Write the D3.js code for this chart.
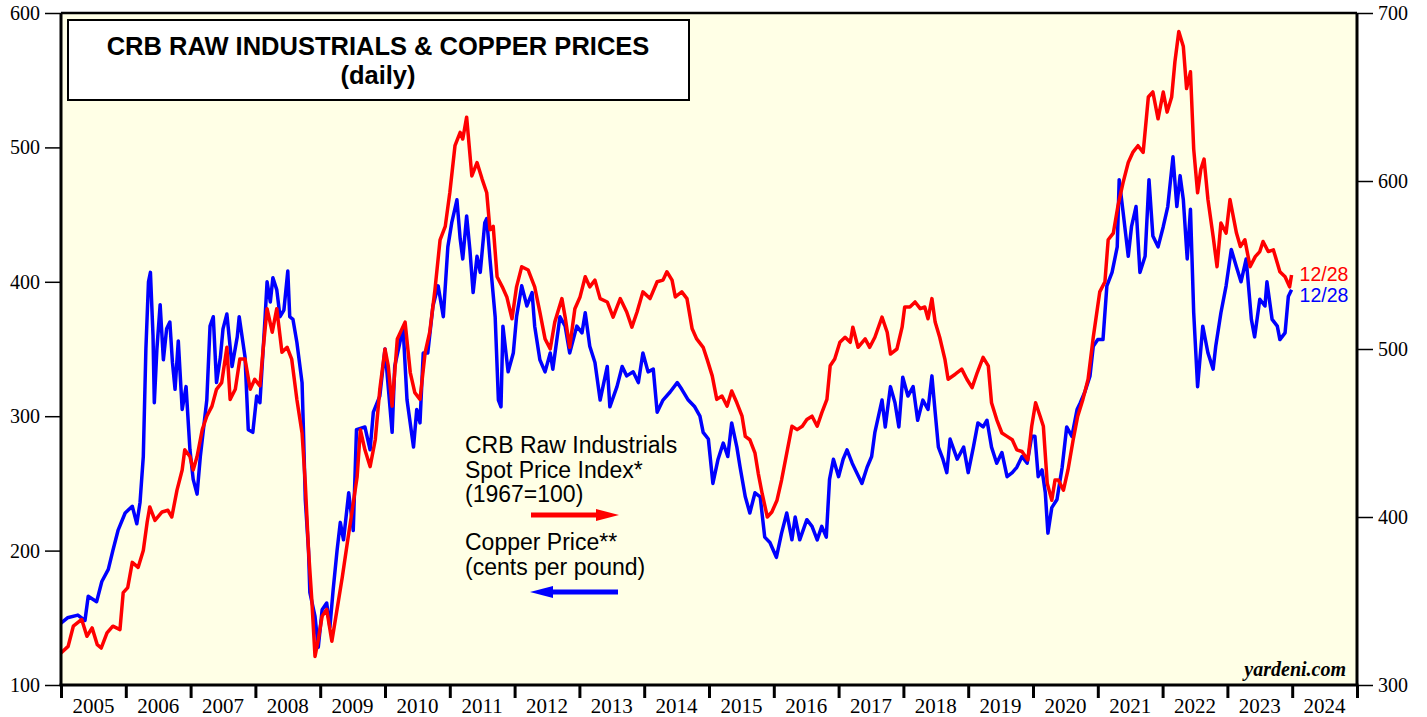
<!DOCTYPE html>
<html>
<head>
  <meta charset="UTF-8">
  <title>CRB Raw Industrials & Copper Prices</title>
  <style>
    body { margin: 0; background: #fff; }
    .tick-label { font-family: "Liberation Serif", "Times New Roman", serif; font-size: 20px; fill: #000; }
    .year-label { font-family: "Liberation Serif", "Times New Roman", serif; font-size: 21px; fill: #000; }
    .legend { font-family: "Liberation Sans", Arial, sans-serif; font-size: 23px; fill: #000; }
  </style>
</head>
<body>
<svg id="chart"></svg>
<script src="https://d3js.org/d3.v7.min.js"></script>
<script>

// copper price, cents per pound (left axis) : [decimal year, value]
var copper = [
  [2005.00,146],[2005.10,150],[2005.26,152],[2005.37,148],[2005.42,166],[2005.55,162],[2005.63,177],[2005.73,186],
  [2005.80,200],[2005.88,215],[2005.99,228],[2006.10,233],[2006.17,220],[2006.22,236],[2006.27,270],[2006.31,350],
  [2006.35,400],[2006.38,407],[2006.42,360],[2006.44,310],[2006.48,350],[2006.53,383],[2006.58,342],[2006.63,365],
  [2006.68,370],[2006.72,340],[2006.76,320],[2006.81,356],[2006.87,305],[2006.93,322],[2006.99,275],[2007.04,253],
  [2007.10,242],[2007.15,270],[2007.25,312],[2007.30,367],[2007.35,374],[2007.40,325],[2007.46,344],[2007.50,365],
  [2007.56,376],[2007.64,337],[2007.72,359],[2007.75,374],[2007.84,344],[2007.89,290],[2007.96,288],[2008.02,315],
  [2008.07,310],[2008.15,374],[2008.18,400],[2008.23,385],[2008.27,403],[2008.33,394],[2008.38,374],[2008.44,379],
  [2008.50,408],[2008.53,374],[2008.58,372],[2008.64,355],[2008.72,325],[2008.74,292],[2008.77,238],[2008.82,200],
  [2008.84,169],[2008.92,151],[2008.97,128],[2009.03,156],[2009.10,161],[2009.15,143],[2009.20,171],[2009.26,200],
  [2009.31,221],[2009.36,208],[2009.44,243],[2009.51,215],[2009.56,290],[2009.69,292],[2009.77,275],[2009.82,303],
  [2009.92,315],[2010.00,350],[2010.11,288],[2010.15,337],[2010.23,355],[2010.28,365],[2010.34,312],[2010.44,277],
  [2010.49,305],[2010.54,295],[2010.59,347],[2010.66,347],[2010.74,382],[2010.82,397],[2010.90,374],[2010.97,426],
  [2011.03,444],[2011.11,461],[2011.16,432],[2011.20,417],[2011.26,449],[2011.31,424],[2011.36,392],[2011.42,419],
  [2011.47,407],[2011.54,444],[2011.57,447],[2011.62,417],[2011.70,374],[2011.75,312],[2011.79,307],[2011.82,367],
  [2011.90,333],[2011.98,347],[2012.03,374],[2012.11,397],[2012.19,382],[2012.27,392],[2012.31,367],[2012.39,342],
  [2012.47,333],[2012.55,347],[2012.59,335],[2012.70,374],[2012.78,367],[2012.85,347],[2012.96,367],[2013.04,362],
  [2013.09,377],[2013.16,352],[2013.24,340],[2013.32,312],[2013.43,337],[2013.47,307],[2013.58,322],[2013.66,337],
  [2013.73,330],[2013.83,333],[2013.91,325],[2013.98,347],[2014.06,333],[2014.14,335],[2014.20,303],[2014.29,312],
  [2014.40,318],[2014.51,325],[2014.58,320],[2014.68,312],[2014.78,307],[2014.86,300],[2014.91,288],[2014.99,283],
  [2015.06,250],[2015.14,268],[2015.22,280],[2015.29,270],[2015.35,295],[2015.43,277],[2015.48,262],[2015.56,240],
  [2015.63,228],[2015.71,243],[2015.79,240],[2015.86,210],[2015.94,206],[2016.04,195],[2016.12,213],[2016.20,228],
  [2016.28,208],[2016.33,225],[2016.40,208],[2016.51,223],[2016.59,218],[2016.67,208],[2016.74,218],[2016.81,210],
  [2016.86,253],[2016.92,268],[2017.00,255],[2017.07,268],[2017.13,275],[2017.21,265],[2017.28,258],[2017.36,250],
  [2017.44,262],[2017.51,270],[2017.56,288],[2017.67,312],[2017.72,292],[2017.80,322],[2017.87,310],[2017.93,292],
  [2017.99,329],[2018.07,315],[2018.15,322],[2018.22,297],[2018.30,312],[2018.38,305],[2018.44,330],[2018.49,303],
  [2018.54,277],[2018.61,268],[2018.67,258],[2018.72,283],[2018.83,268],[2018.93,277],[2019.00,258],[2019.08,277],
  [2019.15,295],[2019.23,292],[2019.29,297],[2019.36,277],[2019.44,265],[2019.52,273],[2019.60,255],[2019.68,258],
  [2019.75,262],[2019.83,270],[2019.91,265],[2019.98,285],[2020.03,285],[2020.08,255],[2020.14,260],[2020.19,243],
  [2020.23,213],[2020.29,232],[2020.37,238],[2020.45,262],[2020.52,292],[2020.60,285],[2020.68,305],[2020.73,310],
  [2020.80,318],[2020.88,330],[2020.93,352],[2021.00,357],[2021.08,357],[2021.14,397],[2021.22,407],[2021.30,426],
  [2021.33,476],[2021.39,452],[2021.47,419],[2021.52,441],[2021.59,456],[2021.65,407],[2021.73,419],[2021.79,476],
  [2021.85,434],[2021.93,426],[2022.01,441],[2022.08,456],[2022.16,493],[2022.22,456],[2022.27,479],[2022.32,461],
  [2022.38,417],[2022.43,454],[2022.48,377],[2022.54,322],[2022.62,367],[2022.70,347],[2022.78,335],[2022.82,352],
  [2022.90,377],[2022.98,397],[2023.06,424],[2023.14,411],[2023.21,400],[2023.29,417],[2023.37,372],[2023.42,359],
  [2023.50,387],[2023.58,382],[2023.61,400],[2023.69,372],[2023.77,367],[2023.81,357],[2023.89,362],[2023.94,389],
  [2023.99,394]
];

// CRB raw industrials spot index, 1967=100 (right axis)
var crb = [
  [2005.00,319],[2005.11,323],[2005.19,335],[2005.32,339],[2005.40,329],[2005.48,334],[2005.56,324],[2005.62,322],
  [2005.71,331],[2005.80,335],[2005.91,333],[2005.96,355],[2006.03,358],[2006.10,373],[2006.19,370],[2006.27,380],
  [2006.33,397],[2006.37,406],[2006.45,398],[2006.56,403],[2006.65,404],[2006.71,400],[2006.79,416],[2006.87,428],
  [2006.91,440],[2006.99,436],[2007.04,428],[2007.10,436],[2007.18,452],[2007.25,460],[2007.33,466],[2007.40,476],
  [2007.48,480],[2007.56,501],[2007.61,470],[2007.69,476],[2007.76,494],[2007.84,494],[2007.92,476],[2007.99,482],
  [2008.07,478],[2008.12,500],[2008.18,524],[2008.26,510],[2008.33,524],[2008.41,498],[2008.49,501],[2008.56,494],
  [2008.64,470],[2008.72,450],[2008.77,420],[2008.82,380],[2008.87,351],[2008.92,317],[2008.97,327],[2009.03,341],
  [2009.10,345],[2009.18,326],[2009.26,345],[2009.34,364],[2009.42,385],[2009.49,403],[2009.57,424],[2009.62,452],
  [2009.69,440],[2009.77,430],[2009.85,446],[2009.92,476],[2010.00,500],[2010.05,490],[2010.11,466],[2010.19,506],
  [2010.31,516],[2010.39,486],[2010.46,474],[2010.54,470],[2010.62,498],[2010.69,510],[2010.77,535],[2010.85,565],
  [2010.93,573],[2011.00,593],[2011.08,621],[2011.16,629],[2011.20,625],[2011.26,638],[2011.34,603],[2011.42,611],
  [2011.50,601],[2011.57,593],[2011.62,571],[2011.67,573],[2011.73,543],[2011.81,537],[2011.88,531],[2011.96,518],
  [2012.03,537],[2012.11,549],[2012.21,547],[2012.31,537],[2012.39,522],[2012.47,506],[2012.55,500],[2012.62,516],
  [2012.73,530],[2012.78,519],[2012.85,501],[2012.93,524],[2013.01,531],[2013.09,543],[2013.16,537],[2013.24,541],
  [2013.32,530],[2013.43,528],[2013.52,519],[2013.63,530],[2013.73,522],[2013.81,513],[2013.89,522],[2013.98,534],
  [2014.09,530],[2014.20,540],[2014.29,541],[2014.35,546],[2014.43,541],[2014.48,531],[2014.58,534],[2014.66,530],
  [2014.74,512],[2014.81,506],[2014.91,501],[2014.97,494],[2015.05,484],[2015.12,470],[2015.20,472],[2015.28,466],
  [2015.35,475],[2015.43,468],[2015.51,460],[2015.56,448],[2015.63,446],[2015.71,438],[2015.76,426],[2015.82,414],
  [2015.90,400],[2015.97,403],[2016.05,410],[2016.12,422],[2016.20,438],[2016.28,454],[2016.36,452],[2016.44,454],
  [2016.51,458],[2016.59,460],[2016.67,454],[2016.74,462],[2016.82,470],[2016.87,490],[2016.94,494],[2017.02,504],
  [2017.10,507],[2017.18,504],[2017.22,513],[2017.30,501],[2017.41,506],[2017.48,501],[2017.56,507],[2017.67,519],
  [2017.75,510],[2017.80,497],[2017.90,500],[2017.98,513],[2018.02,525],[2018.10,525],[2018.18,528],[2018.26,524],
  [2018.33,525],[2018.38,518],[2018.44,530],[2018.49,516],[2018.56,507],[2018.64,494],[2018.69,482],[2018.80,485],
  [2018.90,488],[2018.98,482],[2019.06,477],[2019.14,486],[2019.23,495],[2019.31,490],[2019.36,468],[2019.44,458],
  [2019.52,450],[2019.60,448],[2019.68,446],[2019.75,440],[2019.83,439],[2019.92,434],[2019.98,454],[2020.04,468],
  [2020.11,460],[2020.16,454],[2020.22,420],[2020.29,410],[2020.34,422],[2020.39,422],[2020.47,416],[2020.54,428],
  [2020.62,446],[2020.69,460],[2020.77,470],[2020.85,482],[2020.93,507],[2021.03,534],[2021.11,540],[2021.16,565],
  [2021.24,569],[2021.31,585],[2021.39,599],[2021.47,611],[2021.54,617],[2021.62,621],[2021.70,617],[2021.78,650],
  [2021.85,653],[2021.93,637],[2022.01,653],[2022.07,641],[2022.14,650],[2022.19,671],[2022.25,689],[2022.32,680],
  [2022.37,655],[2022.43,665],[2022.48,619],[2022.54,593],[2022.59,607],[2022.64,613],[2022.70,589],[2022.78,567],
  [2022.84,549],[2022.90,575],[2022.98,569],[2023.04,589],[2023.14,569],[2023.20,561],[2023.27,565],[2023.35,549],
  [2023.43,555],[2023.50,558],[2023.55,564],[2023.63,558],[2023.71,559],[2023.81,546],[2023.89,543],[2023.96,537],
  [2023.99,544]
];

var years = d3.range(2005, 2025);           // year labels
var leftTicks = [100, 200, 300, 400, 500, 600];
var rightTicks = [300, 400, 500, 600, 700];
var legendCrb = ["CRB Raw Industrials", "Spot Price Index*", "(1967=100)"];
var legendCopper = ["Copper Price**", "(cents per pound)"];
var lastDate = "12/28";

var width = 1427, height = 717;
var pL = 61, pR = 1357, pT = 13, pB = 685;   // plot edges

var svg = d3.select("#chart").attr("width", width).attr("height", height);

var x = d3.scaleLinear().domain([2005, 2025]).range([pL, pR]);
var yL = d3.scaleLinear().domain([100, 600]).range([pB, pT]);
var yR = d3.scaleLinear().domain([300, 700]).range([pB, pT]);

// plot background
svg.append("rect")
  .attr("x", pL).attr("y", pT)
  .attr("width", pR - pL).attr("height", pB - pT)
  .attr("fill", "#ffffe6");

// left axis
var gL = svg.append("g").attr("transform", "translate(" + pL + ",0)");
gL.call(d3.axisLeft(yL).tickValues(d3.range(150, 600, 100)).tickSize(8).tickFormat(""));
gL.call(d3.axisLeft(yL).tickValues(leftTicks).tickSize(16).tickPadding(5).tickFormat(d3.format("d")));
gL.selectAll(".domain").remove();
gL.selectAll("line").attr("stroke", "#000").attr("stroke-width", 1.5);
gL.selectAll("text").attr("class", "tick-label").attr("font-size", null).attr("font-family", null);

// right axis
var gR = svg.append("g").attr("transform", "translate(" + pR + ",0)");
gR.call(d3.axisRight(yR).tickValues(d3.range(350, 700, 100)).tickSize(8).tickFormat(""));
gR.call(d3.axisRight(yR).tickValues(rightTicks).tickSize(16).tickPadding(5).tickFormat(d3.format("d")));
gR.selectAll(".domain").remove();
gR.selectAll("line").attr("stroke", "#000").attr("stroke-width", 1.5);
gR.selectAll("text").attr("class", "tick-label").attr("font-size", null).attr("font-family", null);

// bottom axis: ticks at year boundaries, labels centred in each year
var gB = svg.append("g").attr("transform", "translate(0," + pB + ")");
gB.call(d3.axisBottom(x).tickValues(d3.range(2005, 2026)).tickSize(13).tickFormat(""));
gB.selectAll(".domain").remove();
gB.selectAll("line").attr("stroke", "#000").attr("stroke-width", 3);
gB.selectAll(".year")
  .data(years)
  .enter()
  .append("text")
    .attr("class", "year-label")
    .attr("x", d => x(d + 0.5))
    .attr("y", 28)
    .attr("text-anchor", "middle")
    .text(d => d);

// series
var lineL = d3.line().x(d => x(d[0])).y(d => yL(d[1]));
var lineR = d3.line().x(d => x(d[0])).y(d => yR(d[1]));

svg.append("path").datum(copper)
  .attr("d", lineL)
  .attr("fill", "none").attr("stroke", "#0000ff").attr("stroke-width", 3.5)
  .attr("stroke-linejoin", "round");

svg.append("path").datum(crb)
  .attr("d", lineR)
  .attr("fill", "none").attr("stroke", "#ff0000").attr("stroke-width", 3.5)
  .attr("stroke-linejoin", "round");

// plot frame
svg.append("line").attr("x1", pL).attr("x2", pR).attr("y1", pT).attr("y2", pT)
  .attr("stroke", "#000").attr("stroke-width", 2.5);
svg.append("line").attr("x1", pL - 1.5).attr("x2", pR + 1.5).attr("y1", pB).attr("y2", pB)
  .attr("stroke", "#000").attr("stroke-width", 3);
svg.append("line").attr("x1", pL).attr("x2", pL).attr("y1", pT).attr("y2", pB)
  .attr("stroke", "#000").attr("stroke-width", 3);
svg.append("line").attr("x1", pR).attr("x2", pR).attr("y1", pT).attr("y2", pB)
  .attr("stroke", "#000").attr("stroke-width", 3);

// end labels
var lastCrb = crb[crb.length - 1], lastCu = copper[copper.length - 1];
svg.append("text")
  .attr("x", x(lastCrb[0]) + 8).attr("y", yR(lastCrb[1]) + 6)
  .style("font-family", "'Liberation Sans', Arial, sans-serif")
  .style("font-size", "19.5px").style("fill", "#ff0000")
  .text(lastDate);
svg.append("text")
  .attr("x", x(lastCu[0]) + 8).attr("y", yL(lastCu[1]) + 12)
  .style("font-family", "'Liberation Sans', Arial, sans-serif")
  .style("font-size", "19.5px").style("fill", "#0000ff")
  .text(lastDate);

// title box
svg.append("rect")
  .attr("x", 68).attr("y", 20).attr("width", 621).attr("height", 80)
  .attr("fill", "#fff").attr("stroke", "#000").attr("stroke-width", 2);
svg.append("text")
  .attr("x", 378).attr("y", 55)
  .attr("text-anchor", "middle")
  .style("font-family", "'Liberation Sans', Arial, sans-serif")
  .style("font-weight", "bold").style("font-size", "25.5px")
  .text("CRB RAW INDUSTRIALS & COPPER PRICES");
svg.append("text")
  .attr("x", 378).attr("y", 84)
  .attr("text-anchor", "middle")
  .style("font-family", "'Liberation Sans', Arial, sans-serif")
  .style("font-weight", "bold").style("font-size", "25.5px")
  .text("(daily)");

// legend text
svg.selectAll(".lgCrb")
  .data(legendCrb)
  .enter()
  .append("text")
    .attr("class", "legend")
    .attr("x", 465)
    .attr("y", (d, i) => 453 + i * 24.5)
    .text(d => d);

svg.selectAll(".lgCu")
  .data(legendCopper)
  .enter()
  .append("text")
    .attr("class", "legend")
    .attr("x", 465)
    .attr("y", (d, i) => 550 + i * 24.5)
    .text(d => d);

// legend arrows
svg.append("line").attr("x1", 531).attr("x2", 600).attr("y1", 515).attr("y2", 515)
  .attr("stroke", "#ff0000").attr("stroke-width", 5);
svg.append("path").attr("d", "M596,509 L619,515 L596,521 Z").attr("fill", "#ff0000");

svg.append("line").attr("x1", 548).attr("x2", 618).attr("y1", 592).attr("y2", 592)
  .attr("stroke", "#0000ff").attr("stroke-width", 5);
svg.append("path").attr("d", "M553,586 L530,592 L553,598 Z").attr("fill", "#0000ff");

// source
svg.append("text")
  .attr("x", 1346).attr("y", 676)
  .attr("text-anchor", "end")
  .style("font-family", "'Liberation Serif', 'Times New Roman', serif")
  .style("font-weight", "bold").style("font-style", "italic").style("font-size", "20px")
  .text("yardeni.com");

</script>
</body>
</html>
